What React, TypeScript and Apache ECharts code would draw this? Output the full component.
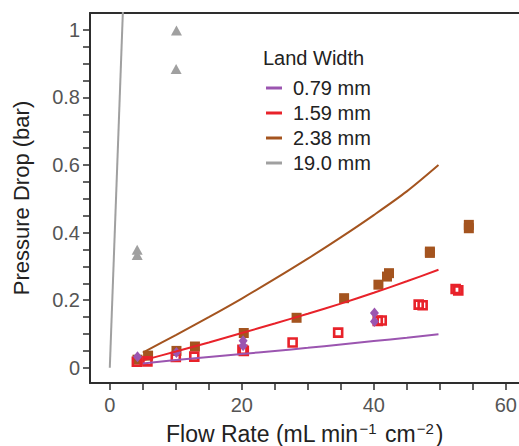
import React, { useEffect, useRef } from "react";
import * as echarts from "echarts";

// Axis ticks and labels
const xTickValues = [0, 5, 10, 15, 20, 25, 30, 35, 40, 45, 50, 55, 60];
const xLabelValues = [0, 20, 40, 60];
const yTickValues = [
  0, 0.05, 0.1, 0.15, 0.2, 0.25, 0.3, 0.35, 0.4, 0.45, 0.5, 0.55, 0.6, 0.65, 0.7,
  0.75, 0.8, 0.85, 0.9, 0.95, 1,
];
const yLabelValues = [0, 0.2, 0.4, 0.6, 0.8, 1];

const landWidths = ["0.79 mm", "1.59 mm", "2.38 mm", "19.0 mm"];

// Model curves: [flow rate, pressure drop]
const model079: number[][] = [
  [5, 0.013], [10, 0.023], [15, 0.032], [20, 0.041], [25, 0.05], [30, 0.059],
  [35, 0.069], [40, 0.079], [45, 0.089], [49.8, 0.099],
];
const model159: number[][] = [
  [5, 0.022], [10, 0.048], [15, 0.075], [20, 0.103], [25, 0.131], [30, 0.16],
  [35, 0.19], [40, 0.222], [45, 0.256], [49.8, 0.29],
];
const model238: number[][] = [
  [5, 0.045], [10, 0.097], [15, 0.15], [20, 0.205], [25, 0.263], [30, 0.323],
  [35, 0.386], [40, 0.452], [45, 0.522], [49.8, 0.6],
];
const model190: number[][] = [
  [0, 0], [2.2, 1.17],
];

// Measurements: [flow rate, pressure drop]
const meas079: number[][] = [
  [4.2, 0.033], [10.1, 0.045], [20.2, 0.08], [20.2, 0.065], [40.1, 0.162], [40.1, 0.137],
];
const meas159: number[][] = [
  [4.1, 0.018], [5.7, 0.019], [10, 0.032], [12.8, 0.033], [20.1, 0.053], [20.3, 0.05],
  [27.7, 0.075], [34.6, 0.104], [40.6, 0.139], [41.2, 0.14], [46.8, 0.187],
  [47.4, 0.185], [52.4, 0.233], [52.8, 0.229],
];
const meas238: number[][] = [
  [4.2, 0.024], [5.8, 0.036], [10.1, 0.05], [12.9, 0.063], [20.3, 0.103], [28.3, 0.148],
  [35.5, 0.206], [40.7, 0.246], [42.0, 0.27], [42.3, 0.28], [48.5, 0.344], [48.5, 0.34],
  [54.4, 0.423], [54.4, 0.413],
];
const meas190: number[][] = [
  [4.15, 0.349], [4.15, 0.334], [10.1, 0.998], [10.05, 0.884],
];

const PURPLE = "#9b55b0";
const RED = "#e8222a";
const BROWN = "#a4541f";
const GREY = "#a0a0a0";
const AXIS = "#2e2e2e";
const FONT = "Liberation Sans, Arial, sans-serif";

export default function App() {
  const ref = useRef<HTMLDivElement>(null);

  useEffect(() => {
    if (!ref.current) return;
    const chart = echarts.init(ref.current, undefined, { renderer: "svg" });

    const lineSeries = (name: string, data: number[][], color: string) => ({
      name,
      type: "line",
      data,
      showSymbol: false,
      symbol: "none",
      smooth: 0.3,
      clip: true,
      lineStyle: { color, width: 2 },
      itemStyle: { color },
      z: 5,
    });

    chart.setOption({
      animation: false,
      textStyle: { fontFamily: FONT },
      grid: {
        left: 90,
        top: 13,
        right: 0,
        bottom: 63,
        containLabel: false,
        outerBoundsMode: "none",
      },
      legend: {
        data: landWidths,
        orient: "vertical",
        left: 261,
        top: 73,
        icon: "rect",
        itemWidth: 16,
        itemHeight: 3,
        itemGap: 5,
        textStyle: { fontSize: 20, color: "#222", fontFamily: FONT, padding: [0, 0, 0, 6] },
        selectedMode: false,
      },
      graphic: [
        {
          type: "text",
          left: 263,
          top: 48,
          style: { text: "Land Width", fontSize: 20, fill: "#222", fontFamily: FONT },
        },
      ],
      xAxis: [
        {
          type: "value",
          min: -3,
          max: 62,
          name: "{t|Flow Rate (mL min}{s|−1}{t| cm}{s|−2}{t|)}",
          nameLocation: "middle",
          nameGap: 38,
          nameTextStyle: {
            fontSize: 23,
            color: "#222",
            fontFamily: FONT,
            rich: {
              t: { fontSize: 23, color: "#222", fontFamily: FONT },
              s: {
                fontSize: 15,
                color: "#222",
                fontFamily: FONT,
                padding: [0, 2, 11, 1],
              },
            },
          },
          axisLine: { show: true, onZero: false, lineStyle: { color: AXIS, width: 2 } },
          axisTick: {
            show: true,
            length: 7,
            customValues: xTickValues,
            lineStyle: { color: AXIS, width: 1.5 },
          },
          axisLabel: {
            customValues: xLabelValues,
            fontSize: 20,
            color: "#555",
            margin: 12,
            fontFamily: FONT,
          },
          splitLine: { show: false },
        },
        {
          type: "value",
          position: "top",
          min: -3,
          max: 62,
          axisLine: { show: true, onZero: false, lineStyle: { color: AXIS, width: 2 } },
          axisTick: { show: false },
          axisLabel: { show: false },
          splitLine: { show: false },
        },
      ],
      yAxis: {
        type: "value",
        min: -0.045,
        max: 1.05,
        name: "Pressure Drop (bar)",
        nameLocation: "middle",
        nameGap: 58,
        nameTextStyle: { fontSize: 22, color: "#222", fontFamily: FONT },
        axisLine: { show: true, onZero: false, lineStyle: { color: AXIS, width: 2 } },
        axisTick: {
          show: true,
          length: 7,
          customValues: yTickValues,
          lineStyle: { color: AXIS, width: 1.5 },
        },
        axisLabel: {
          customValues: yLabelValues,
          fontSize: 20,
          color: "#555",
          margin: 10,
          fontFamily: FONT,
        },
        splitLine: { show: false },
      },
      series: [
        {
          name: "2.38 mm measured",
          type: "scatter",
          data: meas238,
          symbol: "rect",
          symbolSize: 10,
          itemStyle: { color: BROWN, opacity: 1 },
          z: 2,
        },
        {
          name: "1.59 mm measured",
          type: "scatter",
          data: meas159,
          symbol: "rect",
          symbolSize: 8,
          itemStyle: { color: "rgba(255,255,255,0)", borderColor: RED, borderWidth: 2.6, opacity: 1 },
          z: 3,
        },
        {
          name: "0.79 mm measured",
          type: "scatter",
          data: meas079,
          symbol: "diamond",
          symbolSize: [9, 11],
          itemStyle: { color: PURPLE, opacity: 1 },
          z: 4,
        },
        {
          name: "19.0 mm measured",
          type: "scatter",
          data: meas190,
          symbol: "triangle",
          symbolSize: [11, 10],
          itemStyle: { color: GREY, opacity: 1 },
          z: 4,
        },
        lineSeries(landWidths[0], model079, PURPLE),
        lineSeries(landWidths[1], model159, RED),
        lineSeries(landWidths[2], model238, BROWN),
        lineSeries(landWidths[3], model190, GREY),
      ],
    });

    return () => chart.dispose();
  }, []);

  return <div ref={ref} style={{ width: 519, height: 446, position: "absolute", left: 0, top: 0 }} />;
}
